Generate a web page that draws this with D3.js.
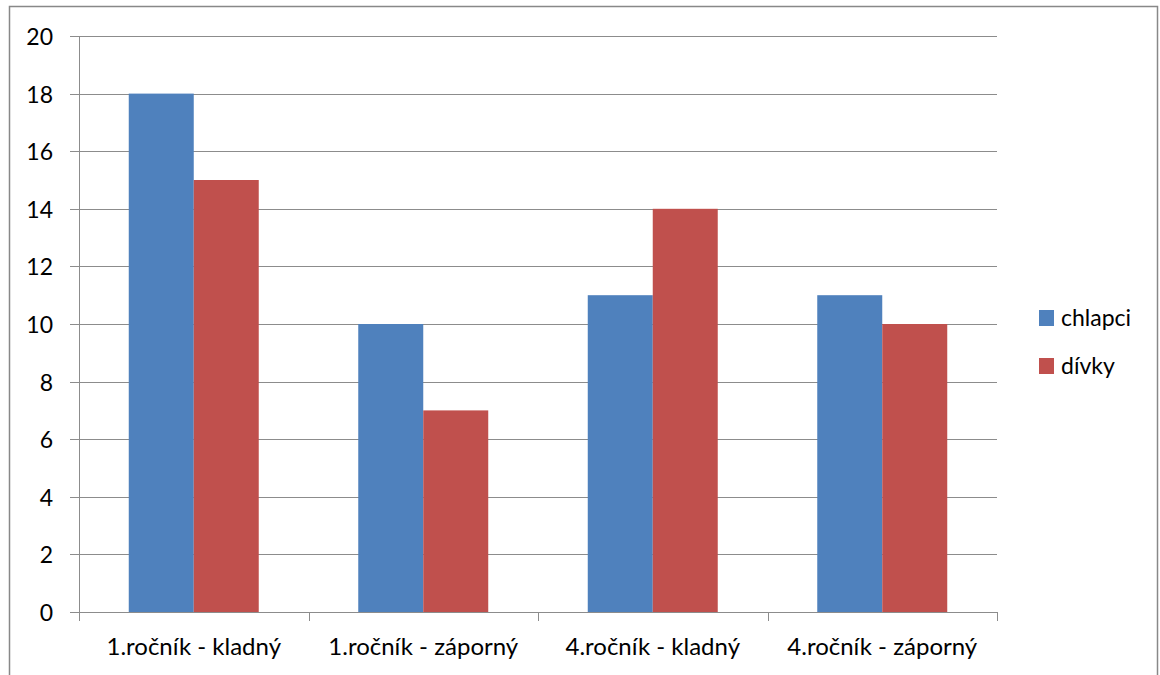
<!DOCTYPE html>
<html><head><meta charset="utf-8">
<script src="https://cdn.jsdelivr.net/npm/d3@7"></script>
<style>body{margin:0;background:#fff}svg{display:block}text{font-family:Lato,"Open Sans",sans-serif;fill:#000}</style>
</head><body><svg id="c" width="1160" height="675"></svg>
<script>
const categories = ["1.ročník - kladný","1.ročník - záporný","4.ročník - kladný","4.ročník - záporný"];
const seriesNames = ["chlapci","dívky"];
const chlapci = [18,10,11,11];
const divky = [15,7,14,10];
const yTicks = [0,2,4,6,8,10,12,14,16,18,20];
const colors = ["#4F81BD","#C0504D"];
const values = [chlapci, divky];

const svg = d3.select("#c");
svg.append("rect").attr("x",9.5).attr("y",6.5).attr("width",1148).attr("height",700)
  .attr("fill","none").attr("stroke","#888").attr("stroke-width",1.5);

const L=79,R=997,T=36,B=612;
const x = d3.scaleBand().domain(categories).range([L,R]).paddingInner(0.4336).paddingOuter(0.2168);
const y = d3.scaleLinear().domain([0,20]).range([B,T]);
const xs = d3.scaleBand().domain(seriesNames).range([0,x.bandwidth()]);

svg.append("g").selectAll("line").data(yTicks).join("line")
  .attr("x1",70).attr("x2",R).attr("y1",d=>Math.round(y(d))+0.5).attr("y2",d=>Math.round(y(d))+0.5)
  .attr("stroke","#8c8c8c").attr("stroke-width",1);

const g = svg.append("g");
seriesNames.forEach((s,si)=>{
  g.selectAll(".b"+si).data(categories).join("rect")
    .attr("x",d=>x(d)+xs(s)).attr("width",xs.bandwidth())
    .attr("y",(d,i)=>y(values[si][i])).attr("height",(d,i)=>B-y(values[si][i]))
    .attr("fill",colors[si]);
});

svg.append("line").attr("x1",L+0.5).attr("x2",L+0.5).attr("y1",T).attr("y2",B).attr("stroke","#8c8c8c");
svg.append("line").attr("x1",70).attr("x2",R+0.5).attr("y1",B+0.5).attr("y2",B+0.5).attr("stroke","#8c8c8c");
const bounds = categories.map(c=>x(c)-x.step()*x.paddingOuter()).concat([R]);
svg.append("g").selectAll("line").data(bounds).join("line")
  .attr("x1",d=>Math.round(d)+0.5).attr("x2",d=>Math.round(d)+0.5).attr("y1",B).attr("y2",B+9)
  .attr("stroke","#8c8c8c");

svg.append("g").selectAll("text").data(yTicks).join("text")
  .attr("x",53).attr("y",d=>y(d)+9).attr("text-anchor","end").attr("font-size",23).text(d=>d);
svg.append("g").selectAll("text").data(categories).join("text")
  .attr("x",d=>x(d)+x.bandwidth()/2).attr("y",655).attr("text-anchor","middle").attr("font-size",24).text(d=>d);

const lg = svg.append("g");
seriesNames.forEach((s,i)=>{
  lg.append("rect").attr("x",1039).attr("y",310+i*48).attr("width",15).attr("height",16).attr("fill",colors[i]);
  lg.append("text").attr("x",1061).attr("y",326+i*48).attr("font-size",23).text(s);
});
</script></body></html>
